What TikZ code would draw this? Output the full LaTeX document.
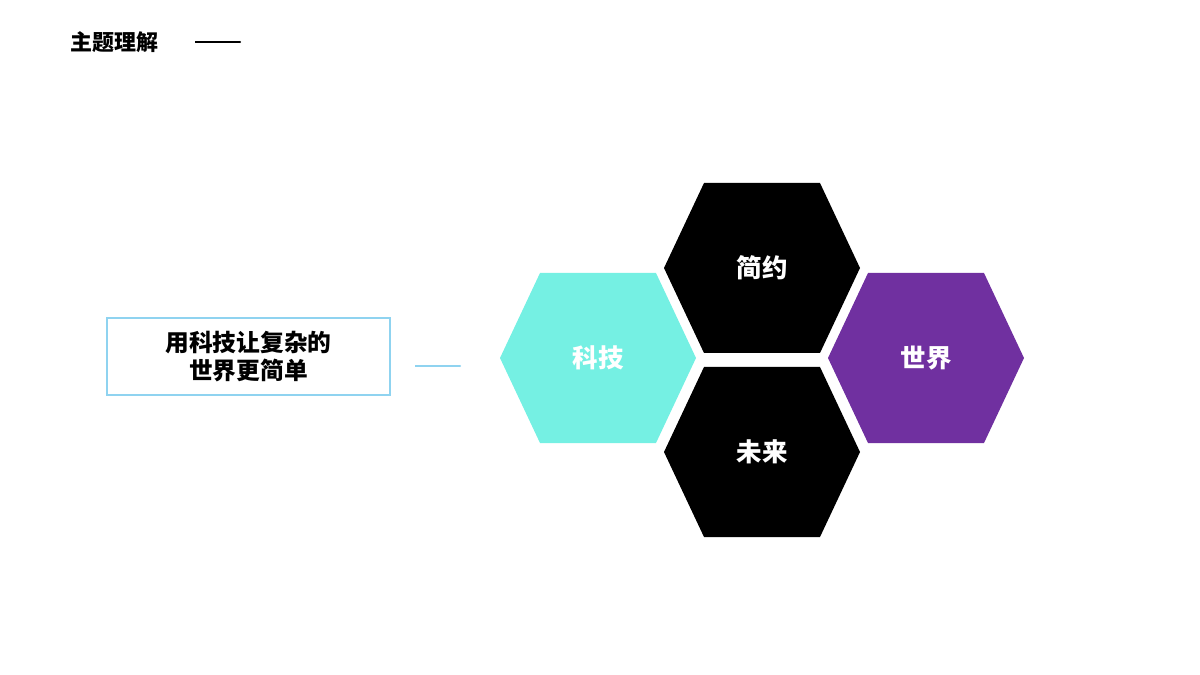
\documentclass[tikz,border=0pt]{standalone}
\usepackage{fontspec}
\newfontfamily\cjk{Noto Sans CJK SC}
\definecolor{cyanhex}{HTML}{75F0E3}
\definecolor{purphex}{HTML}{7030A0}
\definecolor{lblue}{HTML}{8FD3F0}
\begin{document}
\begin{tikzpicture}[x=0.02cm,y=-0.02cm,
  hex/.style={fill=#1,draw=none},
  hexlabel/.style={text=white,font=\cjk\bfseries\fontsize{14.5}{17}\selectfont}]
\useasboundingbox (0,0) rectangle (1200,675);
\node[anchor=west,font=\cjk\bfseries\fontsize{12.5}{15}\selectfont] (title) at (64,42) {主题理解};
\coordinate (t1) at (195,42); \coordinate (t2) at (240,42);
\draw[line width=0.8pt] (t1) -- (t2);
\fill (t2) circle (1.2);
\node[draw=lblue,line width=0.8pt,minimum width=283*0.02cm,minimum height=77*0.02cm,align=center,
  font=\cjk\bfseries\fontsize{13.5}{16}\selectfont,inner sep=0pt] (box) at (248.5,356.5) {用科技让复杂的\\世界更简单};
\coordinate (l1) at (415,366); \coordinate (l2) at (460,366);
\draw[lblue,line width=0.8pt] (l1) -- (l2);
\fill[lblue] (l2) circle (1.2);
\foreach \n/\cx/\cy/\c/\t in {a/598/358/cyanhex/科技, b/762/268/black/简约, c/762/452/black/未来, d/926/358/purphex/世界}{
  \fill[\c] (\cx-98,\cy) -- (\cx-58,\cy-85) -- (\cx+58,\cy-85) -- (\cx+98,\cy) -- (\cx+58,\cy+85) -- (\cx-58,\cy+85) -- cycle;
  \node[hexlabel] (\n) at (\cx,\cy) {\t};
}
\end{tikzpicture}
\end{document}
